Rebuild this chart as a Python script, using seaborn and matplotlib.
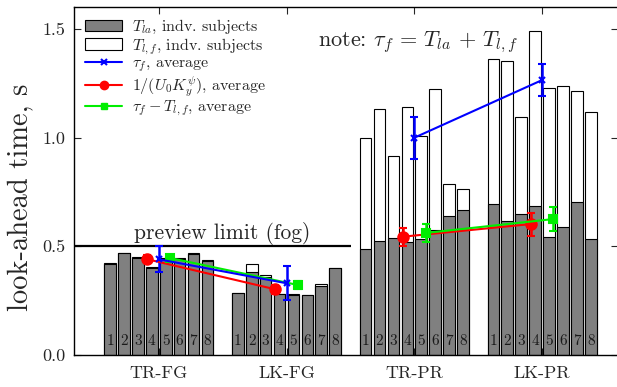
import numpy as np
import pandas as pd
import matplotlib
matplotlib.use("Agg")
import matplotlib.pyplot as plt
import seaborn as sns
from matplotlib.patches import Patch
from matplotlib.lines import Line2D

# --- data -------------------------------------------------------------
conditions = ["TR-FG", "LK-FG", "TR-PR", "LK-PR"]
subjects = ["1", "2", "3", "4", "5", "6", "7", "8"]

# T_la per subject (grey bars), one list per condition
t_la_trfg = [0.418, 0.467, 0.448, 0.401, 0.440, 0.443, 0.466, 0.431]
t_la_lkfg = [0.284, 0.380, 0.360, 0.279, 0.277, 0.275, 0.317, 0.398]
t_la_trpr = [0.486, 0.524, 0.536, 0.521, 0.532, 0.575, 0.639, 0.668]
t_la_lkpr = [0.696, 0.616, 0.648, 0.687, 0.542, 0.590, 0.705, 0.532]

# tau_f = T_la + T_lf per subject (top of the white bars)
tau_trfg = [0.422, 0.471, 0.452, 0.405, 0.444, 0.447, 0.470, 0.435]
tau_lkfg = [0.287, 0.418, 0.366, 0.282, 0.280, 0.278, 0.326, 0.401]
tau_trpr = [0.996, 1.130, 0.913, 1.140, 1.005, 1.224, 0.785, 0.765]
tau_lkpr = [1.361, 1.350, 1.092, 1.491, 1.229, 1.237, 1.215, 1.119]

# condition averages with error bars
tau_avg = [0.440, 0.330, 0.999, 1.264]
tau_err = [0.059, 0.078, 0.096, 0.075]
inv_avg = [0.440, 0.302, 0.544, 0.602]
inv_err = [0.019, 0.020, 0.042, 0.053]
diff_avg = [0.446, 0.322, 0.561, 0.625]
diff_err = [0.012, 0.020, 0.042, 0.057]

preview_limit = 0.5
y_ticks = [0.0, 0.5, 1.0, 1.5]
y_tick_labels = ["0.0", "0.5", "1.0", "1.5"]

# --- table for seaborn ------------------------------------------------
rows = []
for cond, la, tau in zip(conditions,
                         [t_la_trfg, t_la_lkfg, t_la_trpr, t_la_lkpr],
                         [tau_trfg, tau_lkfg, tau_trpr, tau_lkpr]):
    for s, a, t in zip(subjects, la, tau):
        rows.append({"condition": cond, "subject": s, "t_la": a, "tau_f": t})
df = pd.DataFrame(rows)

# --- style ------------------------------------------------------------
sns.set_theme(style="ticks")
plt.rcParams["font.family"] = ["cmr10", "DejaVu Serif"]
plt.rcParams["mathtext.fontset"] = "cm"
plt.rcParams["axes.formatter.use_mathtext"] = True
plt.rcParams["axes.unicode_minus"] = False

fig = plt.figure(figsize=(6.17, 3.87), dpi=100)
ax = fig.add_axes([74 / 617, 32 / 387, 1 - 74 / 617 + 0.002, 348 / 387])

group_width = 0.87
bar_gap = 0.16
common = dict(data=df, x="condition", hue="subject", order=conditions,
              hue_order=subjects, width=group_width, gap=bar_gap, dodge=True,
              errorbar=None, legend=False, saturation=1, ax=ax,
              edgecolor="black", linewidth=0.8)

# white bars: full tau_f, grey bars drawn over them: T_la
sns.barplot(y="tau_f", palette=["white"] * 8, **common)
sns.barplot(y="t_la", palette=["#808080"] * 8, **common)

# subject numbers inside the bars
pitch = group_width / len(subjects)
for g in range(len(conditions)):
    for i, s in enumerate(subjects):
        ax.text(g + (i - 3.5) * pitch, 0.066, s, ha="center", va="center",
                fontsize=11, color="#1a1a1a", zorder=5)

# averages with error bars, connected within FG and PR pairs
off = 0.088
series = [
    (inv_avg, inv_err, -off, "red", "o", 7.5),
    (diff_avg, diff_err, off, "#00ee00", "s", 6),
    (tau_avg, tau_err, 0.0, "blue", "x", 5),
]
for avg, err, dx, col, mk, ms in series:
    for pair in ([0, 1], [2, 3]):
        xs = [p + dx for p in pair]
        ax.errorbar(xs, [avg[p] for p in pair], yerr=[err[p] for p in pair],
                    color=col, marker=mk, markersize=ms, mew=1.5, lw=1.5,
                    capsize=3, capthick=1.5, elinewidth=1.8, zorder=6)

# preview limit
x_left = -0.663
ax.plot([x_left, 1.502], [preview_limit, preview_limit], color="black",
        lw=1.6, zorder=4, solid_capstyle="butt")
ax.text(0.50, preview_limit + 0.006, "preview limit (fog)", ha="center",
        va="bottom", fontsize=15.5)

ax.text(1.25, 1.44, r"note: $\tau_f \,=\, T_{la} \,+\, T_{l,f}$", ha="left",
        va="center", fontsize=16)

# axes
ax.set_xlim(x_left, 3.596)
ax.set_ylim(0, 1.6)
ax.set_yticks(y_ticks, y_tick_labels)
ax.set_xticks(range(len(conditions)), conditions)
ax.set_xlabel("")
ax.set_ylabel("look-ahead time, s", fontsize=20.5)
ax.yaxis.set_label_coords(-0.0755, 0.454)
ax.tick_params(axis="both", direction="in", labelsize=13, top=True,
               right=True, length=5, width=0.8, pad=8)
ax.tick_params(axis="y", pad=6)
ax.spines["right"].set_visible(False)
for sp in ("left", "top", "bottom"):
    ax.spines[sp].set_linewidth(1.0)
    ax.spines[sp].set_color("black")

handles = [
    Patch(facecolor="#808080", edgecolor="black", lw=0.8),
    Patch(facecolor="white", edgecolor="black", lw=0.8),
    Line2D([], [], color="blue", marker="x", markersize=4, mew=1.5, lw=1.5),
    Line2D([], [], color="red", marker="o", markersize=6, lw=1.5),
    Line2D([], [], color="#00ee00", marker="s", markersize=5, lw=1.5),
]
labels = [r"$T_{la}$, indv. subjects", r"$T_{l,f}$, indv. subjects",
          r"$\tau_f$, average", r"$1/(U_0K_y^\psi)$, average",
          r"$\tau_f - T_{l,f}$, average"]
leg = ax.legend(handles, labels, loc="upper left", fontsize=11.5,
                frameon=True, framealpha=1, edgecolor="white", fancybox=False,
                labelspacing=0.0, handlelength=2.3, handletextpad=0.6,
                borderaxespad=0.5, borderpad=0.2)
leg.set_zorder(10)

fig.savefig("out.png", dpi=100)
